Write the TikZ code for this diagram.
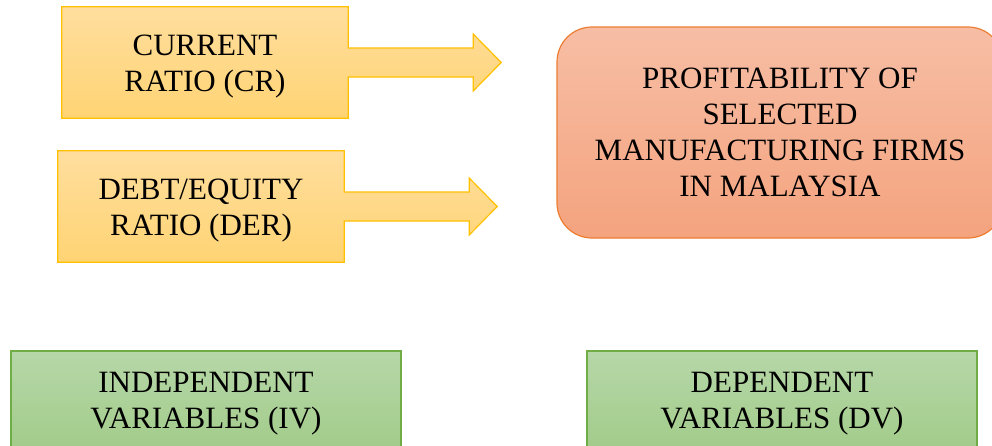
\documentclass[tikz,border=0pt]{standalone}
\usepackage{fontspec}
\setmainfont{Liberation Serif}
\usepackage{xcolor}
\usepackage{tikz}
\usetikzlibrary{positioning,calc,backgrounds}
\definecolor{ratioTop}{HTML}{FFDE9E}
\definecolor{ratioBottom}{HTML}{FFD474}
\definecolor{ratioBorder}{HTML}{FFC000}
\definecolor{profitTop}{HTML}{F7BEA5}
\definecolor{profitBottom}{HTML}{F4A37E}
\definecolor{profitBorder}{HTML}{ED7D31}
\definecolor{varTop}{HTML}{B6D7A8}
\definecolor{varBottom}{HTML}{A1CB88}
\definecolor{varBorder}{HTML}{70AD47}

\begin{document}
\begin{tikzpicture}[x=1pt, y=-1pt,
  bigtext/.style={font=\fontsize{31}{36}\selectfont, align=center, inner sep=0pt},
  ratio/.style={minimum width=286pt, minimum height=111pt, inner sep=0pt},
  ratioshape/.style={draw=ratioBorder, line width=1.2pt, top color=ratioTop, bottom color=ratioBottom},
  profit/.style={bigtext, draw=profitBorder, line width=1.2pt, top color=profitTop, bottom color=profitBottom,
    rounded corners=35pt, minimum width=446pt, minimum height=211pt},
  varbox/.style={bigtext, draw=varBorder, line width=1.2pt, top color=varTop, bottom color=varBottom,
    minimum width=390pt, minimum height=106pt},
]
  \useasboundingbox (0,0) rectangle (992,445);
  \clip (0,0) rectangle (992,445);

  \node[ratio] (cr) at (205,62.5) {};
  \node[ratio] (der) at (201,206.5) {};
  \node[bigtext] (cr-text) at ($(cr.center)+(0,4)$) {CURRENT\\RATIO (CR)};
  \node[bigtext] (der-text) at ($(der.center)+(0,4)$) {DEBT/EQUITY\\RATIO (DER)};

  % box and block arrow drawn as one outline
  \begin{scope}[on background layer]
    \foreach \b in {cr,der} {
      \draw[ratioshape] (\b.north west) -- (\b.north east) -- ($(\b.east)+(0,-14.5)$)
        -- ($(\b.east)+(125,-14.5)$) -- ($(\b.east)+(125,-28.5)$) -- ($(\b.east)+(153,0)$)
        -- ($(\b.east)+(125,28.5)$) -- ($(\b.east)+(125,14.5)$) -- ($(\b.east)+(0,14.5)$)
        -- (\b.south east) -- (\b.south west) -- cycle;
    }
  \end{scope}

  \node[profit] (profit) at (780,132.5) {PROFITABILITY OF\\SELECTED\\MANUFACTURING FIRMS\\IN MALAYSIA};

  \node[varbox] (iv) at (206,404) {INDEPENDENT\\VARIABLES (IV)};
  \node[varbox] (dv) at (782,404) {DEPENDENT\\VARIABLES (DV)};
\end{tikzpicture}
\end{document}
